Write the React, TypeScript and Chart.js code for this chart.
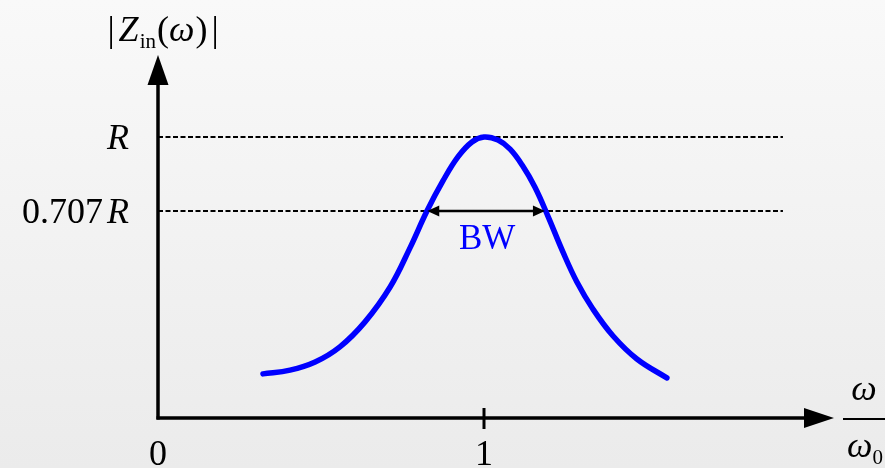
import React, { useEffect, useRef } from "react";
import { Chart, registerables } from "chart.js";

Chart.register(...registerables);

// ---- data (R = 1, x in units of omega/omega0) ----
const curveX = [0.322, 0.405, 0.482, 0.558, 0.635, 0.712, 0.773, 0.825, 0.874, 0.92, 0.963, 1.0, 1.043, 1.08, 1.117, 1.156, 1.196, 1.242, 1.285, 1.334, 1.396, 1.469, 1.561];
const curveY = [0.062, 0.077, 0.109, 0.169, 0.268, 0.406, 0.561, 0.707, 0.826, 0.921, 0.98, 1.0, 0.988, 0.952, 0.889, 0.802, 0.687, 0.545, 0.426, 0.319, 0.212, 0.121, 0.046];
const levelValues = [1, 0.707];
const levelLabelNumbers = ["", "0.707"];
const levelLabelSymbol = "R";
const dashRange = [0, 1.917];
const xTickValues = [0, 1];
const xTickLabels = ["0", "1"];
const bwRange = [0.826, 1.187];
const bwLabel = "BW";
const xMin = 0;
const xMax = 2.0736;
const yMin = -0.1126;
const yMax = 1.3246;

const FONT = '"Liberation Serif", "Times New Roman", serif';
type Run = { t: string; it?: boolean; s?: number; dy?: number; gap?: number };

function runFont(r: Run, base: number) {
  return `${r.it ? "italic " : ""}${r.s ?? base}px ${FONT}`;
}
function measureRuns(ctx: CanvasRenderingContext2D, runs: Run[], base: number) {
  let w = 0;
  for (const r of runs) {
    ctx.font = runFont(r, base);
    w += ctx.measureText(r.t).width + (r.gap ?? 0);
  }
  return w;
}
function drawRuns(
  ctx: CanvasRenderingContext2D,
  runs: Run[],
  x: number,
  y: number,
  align: "left" | "center" | "right",
  base: number,
  color = "#000"
) {
  const w = measureRuns(ctx, runs, base);
  let cx = align === "left" ? x : align === "center" ? x - w / 2 : x - w;
  ctx.save();
  ctx.fillStyle = color;
  ctx.textAlign = "left";
  ctx.textBaseline = "alphabetic";
  for (const r of runs) {
    ctx.font = runFont(r, base);
    ctx.fillText(r.t, cx, y + (r.dy ?? 0));
    cx += ctx.measureText(r.t).width + (r.gap ?? 0);
  }
  ctx.restore();
}

const bgPlugin = {
  id: "bg",
  beforeDraw(chart: any) {
    const { ctx, width, height } = chart;
    const g = ctx.createLinearGradient(0, 0, 0, height);
    g.addColorStop(0, "#f9f9f9");
    g.addColorStop(1, "#ebebeb");
    ctx.save();
    ctx.fillStyle = g;
    ctx.fillRect(0, 0, width, height);
    ctx.restore();
  },
};

function arrowHead(ctx: CanvasRenderingContext2D, tipX: number, tipY: number, dx: number, dy: number, len: number, half: number) {
  const bx = tipX - dx * len;
  const by = tipY - dy * len;
  const px = -dy;
  const py = dx;
  ctx.beginPath();
  ctx.moveTo(tipX, tipY);
  ctx.lineTo(bx + px * half, by + py * half);
  ctx.lineTo(bx - px * half, by - py * half);
  ctx.closePath();
  ctx.fill();
}

const decorPlugin = {
  id: "decor",
  afterDatasetsDraw(chart: any) {
    const { ctx, chartArea, scales } = chart;
    const xs = scales.x;
    const ys = scales.y;
    const ox = xs.getPixelForValue(0);
    const oy = chartArea.bottom;
    ctx.save();
    ctx.fillStyle = "#000";
    ctx.strokeStyle = "#000";
    // y axis
    ctx.lineWidth = 3.5;
    ctx.beginPath();
    ctx.moveTo(ox, oy + 1.5);
    ctx.lineTo(ox, chartArea.top + 28);
    ctx.stroke();
    arrowHead(ctx, ox, chartArea.top, 0, -1, 30, 10.5);
    // x axis
    ctx.beginPath();
    ctx.moveTo(ox - 1.5, oy);
    ctx.lineTo(chartArea.right - 28, oy);
    ctx.stroke();
    arrowHead(ctx, chartArea.right, oy, 1, 0, 30, 10);
    // ticks
    ctx.lineWidth = 3;
    xTickValues.forEach((v, i) => {
      const px = xs.getPixelForValue(v);
      if (v !== 0) {
        ctx.beginPath();
        ctx.moveTo(px, oy - 10);
        ctx.lineTo(px, oy + 11);
        ctx.stroke();
      }
      drawRuns(ctx, [{ t: xTickLabels[i] }], px, oy + 47, "center", 36);
    });
    // level labels
    levelValues.forEach((v, i) => {
      const py = ys.getPixelForValue(v);
      const runs: Run[] = [];
      if (levelLabelNumbers[i]) runs.push({ t: levelLabelNumbers[i], gap: 4 });
      runs.push({ t: levelLabelSymbol, it: true });
      drawRuns(ctx, runs, ox - 29, py + 12, "right", 36);
    });
    // BW arrow
    const by = ys.getPixelForValue(levelValues[1]);
    const x1 = xs.getPixelForValue(bwRange[0]);
    const x2 = xs.getPixelForValue(bwRange[1]);
    ctx.lineWidth = 2.5;
    ctx.beginPath();
    ctx.moveTo(x1 + 8, by);
    ctx.lineTo(x2 - 8, by);
    ctx.stroke();
    arrowHead(ctx, x1, by, -1, 0, 12, 5.5);
    arrowHead(ctx, x2, by, 1, 0, 12, 5.5);
    drawRuns(ctx, [{ t: bwLabel }], (x1 + x2) / 2 + 1, by + 38, "center", 35, "#0000ff");
    // y axis title |Z_in(ω)|
    drawRuns(
      ctx,
      [
        { t: "|", gap: 4 },
        { t: "Z", it: true, gap: 1 },
        { t: "in", s: 21, dy: 7, gap: 1 },
        { t: "(" },
        { t: "ω", it: true, gap: 1 },
        { t: ")", gap: 4 },
        { t: "|" },
      ],
      ox + 5,
      41,
      "center",
      36
    );
    // x axis title ω / ω0
    const fx = chartArea.right + 30;
    drawRuns(ctx, [{ t: "ω", it: true }], fx, oy - 18, "center", 36);
    ctx.lineWidth = 2;
    ctx.beginPath();
    ctx.moveTo(fx - 21, oy + 1);
    ctx.lineTo(fx + 22, oy + 1);
    ctx.stroke();
    drawRuns(ctx, [{ t: "ω", it: true }, { t: "0", s: 21, dy: 7 }], fx + 1, oy + 39, "center", 36);
    ctx.restore();
  },
};

export default function App() {
  const ref = useRef<HTMLCanvasElement | null>(null);
  useEffect(() => {
    if (!ref.current) return;
    const curve = curveX.map((x, i) => ({ x, y: curveY[i] }));
    const levelSets = levelValues.map((v) => ({
      data: dashRange.map((x) => ({ x, y: v })),
      borderColor: "#000",
      borderWidth: 2.2,
      borderDash: [5, 2.5],
      pointRadius: 0,
      fill: false,
      order: 2,
    }));
    const chart = new Chart(ref.current, {
      type: "line",
      data: {
        datasets: [
          {
            data: curve,
            borderColor: "#0000ff",
            borderWidth: 5.5,
            borderCapStyle: "round",
            borderJoinStyle: "round",
            tension: 0.4,
            pointRadius: 0,
            fill: false,
            order: 0,
          } as any,
          ...levelSets,
        ],
      },
      options: {
        animation: false,
        responsive: false,
        layout: { padding: { left: 158, right: 51, top: 55, bottom: 50 } },
        plugins: { legend: { display: false }, tooltip: { enabled: false } },
        scales: {
          x: { type: "linear", min: xMin, max: xMax, display: false },
          y: { type: "linear", min: yMin, max: yMax, display: false },
        },
        events: [],
      },
      plugins: [bgPlugin, decorPlugin],
    });
    return () => chart.destroy();
  }, []);
  return (
    <div style={{ position: "fixed", left: 0, top: 0, width: 885, height: 468 }}>
      <canvas ref={ref} width={885} height={468} style={{ display: "block", width: 885, height: 468 }} />
    </div>
  );
}
